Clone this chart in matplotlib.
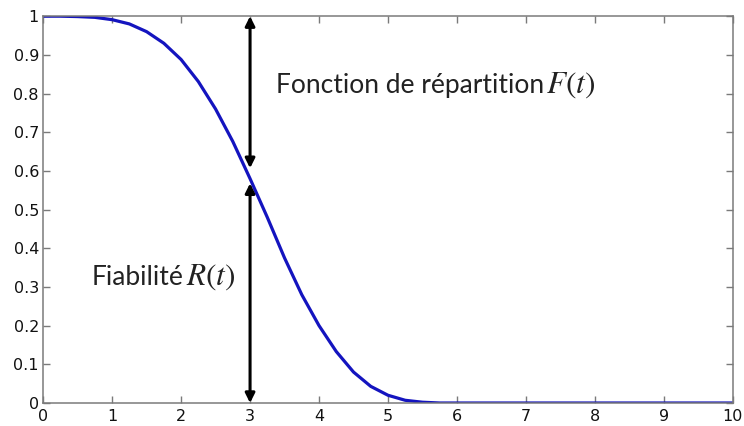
import numpy as np
import matplotlib
matplotlib.use("Agg")
import matplotlib.pyplot as plt

# reliability curve R(t)
t = [0, 0.25, 0.5, 0.75, 1.0, 1.25, 1.5, 1.75, 2.0, 2.25, 2.5, 2.75, 3.0,
     3.25, 3.5, 3.75, 4.0, 4.25, 4.5, 4.75, 5.0, 5.25, 5.5, 5.75, 6, 7, 8, 9, 10]
R = [1.0, 1.0, 0.999, 0.997, 0.991, 0.98, 0.96, 0.93, 0.888, 0.831, 0.76, 0.676, 0.58,
     0.48, 0.375, 0.28, 0.2, 0.133, 0.08, 0.043, 0.02, 0.007, 0.002, 0.0, 0.0, 0.0, 0.0, 0.0, 0.0]

xticks = [0, 1, 2, 3, 4, 5, 6, 7, 8, 9, 10]
yticks = [0, 0.1, 0.2, 0.3, 0.4, 0.5, 0.6, 0.7, 0.8, 0.9, 1]
ytick_labels = ["0", "0.1", "0.2", "0.3", "0.4", "0.5", "0.6", "0.7", "0.8", "0.9", "1"]

t_mark = 3
F_arrow = (1.0, 0.607)
R_arrow = (0.0, 0.568)

plt.rcParams["mathtext.fontset"] = "stix"

fig = plt.figure(figsize=(7.44, 4.26), dpi=100)
ax = fig.add_axes([0.058, 0.054, 0.927, 0.908])

ax.plot(t, R, color="#1414bf", lw=2.3, solid_capstyle="round")

ax.set_xlim(0, 10)
ax.set_ylim(0, 1)
ax.set_xticks(xticks)
ax.set_yticks(yticks)
ax.set_yticklabels(ytick_labels)
for s in ax.spines.values():
    s.set_color("#7a7a7a")
    s.set_linewidth(1.1)
ax.tick_params(direction="in", length=5, width=1, color="#7a7a7a",
               top=True, right=True, labelsize=11.5, labelcolor="#111111")
ax.tick_params(axis="x", pad=4)
ax.tick_params(axis="y", pad=3)
for lab in ax.get_xticklabels() + ax.get_yticklabels():
    lab.set_family("DejaVu Sans")

# double arrows
ax.annotate("", xy=(t_mark, F_arrow[0]), xytext=(t_mark, F_arrow[1]),
            arrowprops=dict(arrowstyle="<|-|>", color="black", lw=2.2,
                            mutation_scale=14, shrinkA=0, shrinkB=0))
ax.annotate("", xy=(t_mark, R_arrow[0]), xytext=(t_mark, R_arrow[1]),
            arrowprops=dict(arrowstyle="<|-|>", color="black", lw=2.2,
                            mutation_scale=14, shrinkA=0, shrinkB=0))

# labels: plain text then italic math part
fig.canvas.draw()
renderer = fig.canvas.get_renderer()


def label(x, y, txt, math):
    t1 = ax.text(x, y, txt, family="Lato", fontsize=19, color="#222222",
                 va="baseline", ha="left")
    bb = t1.get_window_extent(renderer)
    xd, yd = ax.transData.inverted().transform((bb.x1 + 2, 0))
    ax.text(xd, y, math, fontsize=22.5, color="#222222", va="baseline", ha="left")


label(3.38, 0.802, "Fonction de répartition", r"$F(t)$")
label(0.71, 0.305, "Fiabilité", r"$R(t)$")

fig.savefig("out.png", dpi=100)
